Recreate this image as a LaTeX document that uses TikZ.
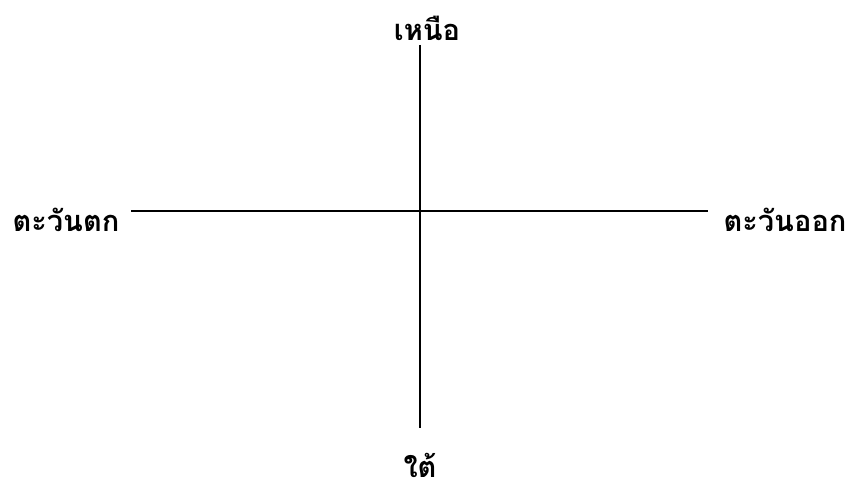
\documentclass[tikz,border=0pt]{standalone}
\usepackage{fontspec}
\newfontfamily\thaifont[Script=Thai]{Loma}
\begin{document}
\begin{tikzpicture}[x=1pt,y=1pt,
  lbl/.style={font=\thaifont\bfseries\fontsize{29}{34}\selectfont, inner sep=0pt},
  axis/.style={draw=black, line width=1.6pt}]
\useasboundingbox (0,0) rectangle (854,493);
\node[lbl] (n) at (427,465) {เหนือ};
\node[lbl] (s) at (420,28) {ใต้};
\node[lbl] (w) at (66,273) {ตะวันตก};
\node[lbl] (e) at (785,273) {ตะวันออก};
\coordinate (top) at (420,448);
\coordinate (bot) at (420,65);
\coordinate (lft) at (131,282);
\coordinate (rgt) at (708,282);
\draw[axis] (top) -- (bot);
\draw[axis] (lft) -- (rgt);
\end{tikzpicture}
\end{document}
